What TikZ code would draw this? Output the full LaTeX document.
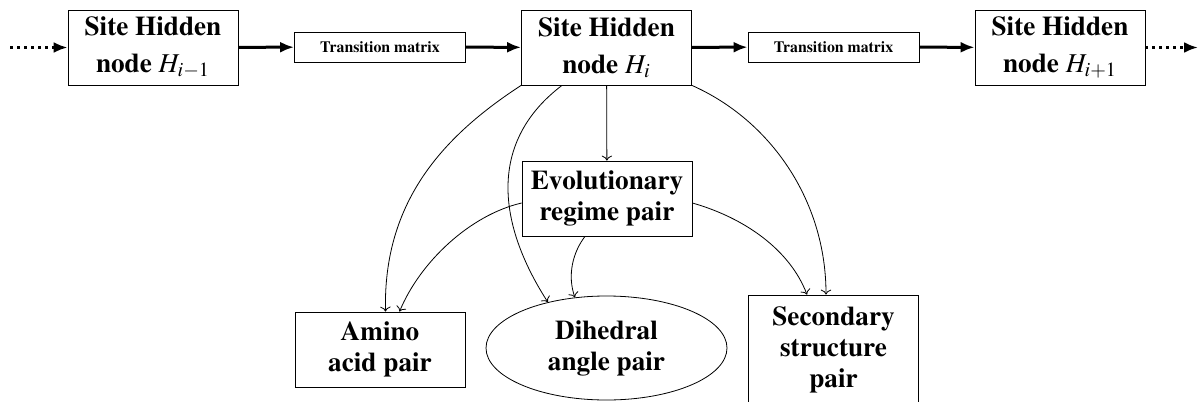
\documentclass[tikz,border=0pt]{standalone}
\usepackage[T1]{fontenc}
\usepackage{mathptmx}
\usetikzlibrary{shapes.geometric,arrows.meta}
\tikzset{
	hidden/.style={draw, align=center, font=\fontsize{13.6}{15.5}\selectfont\bfseries, minimum width=85pt, minimum height=37.5pt, inner sep=1pt},
	trans/.style={draw, font=\fontsize{7.9}{9}\selectfont\bfseries, minimum width=85.5pt, minimum height=15pt, inner sep=1pt},
	seqarrow/.style={line width=1.5pt, -{Latex[length=7pt,width=5.5pt]}},
	link/.style={->},
}

\begin{document}
\begin{tikzpicture}[x=0.5pt,y=-0.5pt]
			%%%%% START %%%%%
			\useasboundingbox (0,0) rectangle (1202,401);
			
			\node[hidden] (Hprev) at (153,47.5) {Site Hidden\\[3pt]node $H_{i-1}$};
			\node[trans] (trans1) at (380,47) {Transition matrix};
			\node[hidden] (Hi) at (606.5,47.5) {Site Hidden\\[3pt]node $H_{i}$};
			\node[trans] (trans2) at (833.5,47) {Transition matrix};
			\node[hidden] (Hnext) at (1060,47.5) {Site Hidden\\[3pt]node $H_{i+1}$};
			
			\coordinate (inflow) at (10,47.5);
			\coordinate (outflow) at (1198,47.5);
			
			\draw[seqarrow, dotted] (inflow) -- (Hprev);
			\draw[seqarrow] (Hprev) -- (trans1);
			\draw[seqarrow] (trans1) -- (Hi);
			\draw[seqarrow] (Hi) -- (trans2);
			\draw[seqarrow] (trans2) -- (Hnext);
			\draw[seqarrow, dotted] (Hnext) -- (outflow);
			
			\node[hidden] (evol) at (607,198.5) {Evolutionary\\regime pair};
			\node[hidden] (amino) at (380,349.5) {Amino\\acid pair};
			\node[hidden, ellipse, minimum width=120.5pt, minimum height=52pt, inner sep=0pt] (dial) at (606.5,348) {Dihedral\\angle pair};
			\node[hidden, minimum height=55pt] (second) at (833.5,350) {Secondary\\structure\\pair};
			
			\draw[link] (Hi) -- (evol);
			\draw[link] (Hi.south west) .. controls (445,135) and (383,200) .. ([xshift=2.75pt]amino.north);
			\draw[link] ([xshift=-22.25pt]Hi.south) .. controls (490,140) and (495,220) .. (dial.142);
			\draw[link] (Hi.south east) .. controls (770,120) and (826,200) .. ([xshift=-3.75pt]second.north);
			
			\draw[link] ([yshift=-2.25pt]evol.west) .. controls (470,215) and (420,262) .. ([xshift=9.75pt]amino.north);
			\draw[link] ([xshift=-11pt]evol.south) .. controls (573,252) and (567,275) .. (dial.122);
			\draw[link] ([yshift=-2.25pt]evol.east) .. controls (745,218) and (790,250) .. ([xshift=-13.25pt]second.north);
			%%%%% END %%%%%
\end{tikzpicture}
\end{document}
